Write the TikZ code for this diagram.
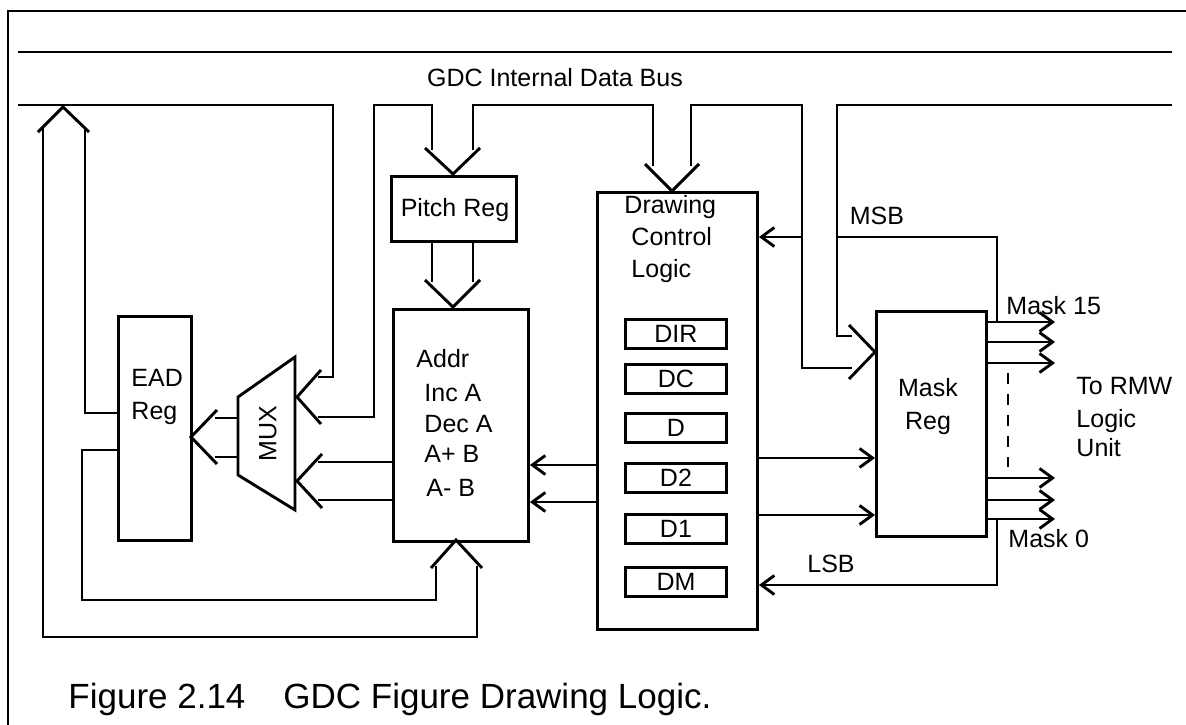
\documentclass[tikz,border=0pt]{standalone}
\usepackage{fontspec}
\setmainfont{Liberation Sans}
\usetikzlibrary{arrows.meta}
\begin{document}
\begin{tikzpicture}[x=1pt,y=-1pt,line width=2.9pt,line join=miter,
  box/.style={draw,line width=2.9pt,inner sep=0pt,anchor=north west},
  lbl/.style={font=\fontsize{25}{30}\selectfont,inner sep=0pt},
  captxt/.style={font=\fontsize{35}{42}\selectfont,inner sep=0pt},
  sarr/.style={-{Straight Barb[length=13pt,width=19pt]}}]
\useasboundingbox (0,0) rectangle (1186,725);
\fill[white] (0,0) rectangle (1186,725);
% frame
\draw[line width=2.6pt] (8,725) -- (8,11) -- (1186,11);
% boxes
\node[box,minimum width=73pt,minimum height=224pt] (ead) at (117,315) {};
\node[box,minimum width=125pt,minimum height=65pt] (pitch) at (390,175) {};
\node[box,minimum width=135pt,minimum height=232pt] (addr) at (392,308) {};
\node[box,minimum width=160pt,minimum height=437pt] (dcl) at (596,191) {};
\node[box,minimum width=110pt,minimum height=225pt] (mask) at (875,310) {};
\foreach \nm/\yy/\tx in {dir/318/DIR,dc/363/DC,d/412/D,dtwo/462/D2,done/513/D1,dm/566/DM}{
  \node[box,minimum width=101pt,minimum height=29pt] (\nm) at (624,\yy) {};
  \node[lbl,anchor=base] at ([yshift=-9pt]\nm.center) {\tx};
}
% MUX
\draw (295,357) -- (295,510) -- (238,475) -- (238,397) -- cycle;
\coordinate (mux) at (268,434);
\node[lbl,rotate=90] at (mux) {MUX};
% bus
\draw (18,52) -- (1172,52);
\draw (18,105) -- (333,105) -- (333,377) -- (318,377);
\draw (318,417) -- (374,417) -- (374,105) -- (432,105) -- (432,150);
\draw (473,150) -- (473,105) -- (653,105) -- (653,166);
\draw (691,166) -- (691,105) -- (802,105) -- (802,368) -- (852,368);
\draw (852,336) -- (837,336) -- (837,105) -- (1172,105);
% bus arrow heads
\draw (321,370) -- (297,397) -- (321,424);
\draw (425,148) -- (453,174) -- (480,148);
\draw (645,164) -- (672,191) -- (699,164);
\draw (849,325) -- (875,352) -- (849,379);
% pitch -> addr
\draw (432,240) -- (432,282);
\draw (473,240) -- (473,282);
\draw (425,280) -- (453,307) -- (480,280);
% addr -> mux
\draw (addr.west |- 0,462) -- (318,462);
\draw (addr.west |- 0,500) -- (318,500);
\draw (322,454) -- (297,481) -- (322,508);
% mux -> ead
\draw (238,418) -- (215,418);
\draw (238,457) -- (215,457);
\draw (217,410) -- (191,437) -- (217,464);
% big up arrow and loops
\draw (38,132) -- (63,107) -- (89,132);
\draw (43,128) -- (43,637) -- (477,637) -- (477,566);
\draw (85,128) -- (85,413) -- (ead.west |- 0,413);
\draw (ead.west |- 0,450) -- (82,450) -- (82,600) -- (436,600) -- (436,566);
\draw (431,568) -- (456,540) -- (482,568);
% single arrows
\draw[sarr] (dcl.west |- 0,465) -- (addr.east |- 0,465);
\draw[sarr] (dcl.west |- 0,502) -- (addr.east |- 0,502);
\draw[sarr] (dcl.east |- 0,458) -- (mask.west |- 0,458);
\draw[sarr] (dcl.east |- 0,515) -- (mask.west |- 0,515);
\draw[sarr] (802,237) -- (dcl.east |- 0,237);
\draw (837,237) -- (997,237) -- (997,322);
\foreach \yy in {322,342,363,478,500,519}
  \draw[sarr] (mask.east |- 0,\yy) -- (1055,\yy);
\draw[sarr] (997,519) -- (997,585) -- (dcl.east |- 0,585);
\draw[dash pattern=on 11pt off 10pt] (1008,373) -- (1008,467);
% labels
\node[lbl,anchor=base] at (555,86) {GDC Internal Data Bus};
\node[lbl,anchor=base] at (455,216) {Pitch Reg};
\node[lbl,anchor=base west] at (623,213) {Drawing};
\node[lbl,anchor=base west] at (630,245) {Control};
\node[lbl,anchor=base west] at (630,277) {Logic};
\node[lbl,anchor=base west] at (130,386) {EAD};
\node[lbl,anchor=base west] at (130,419) {Reg};
\node[lbl,anchor=base west] at (415,367) {Addr};
\node[lbl,anchor=base west] at (423,401) {Inc A};
\node[lbl,anchor=base west] at (423,432) {Dec A};
\node[lbl,anchor=base west] at (423,462) {A+ B};
\node[lbl,anchor=base west] at (425,496) {A- B};
\node[lbl,anchor=base] at (928,396) {Mask};
\node[lbl,anchor=base] at (928,429) {Reg};
\node[lbl,anchor=base] at (877,224) {MSB};
\node[lbl,anchor=base] at (831,572) {LSB};
\node[lbl,anchor=base west] at (1005,314) {Mask 15};
\node[lbl,anchor=base west] at (1007,547) {Mask 0};
\node[lbl,anchor=base west] at (1075,394) {To RMW};
\node[lbl,anchor=base west] at (1075,427) {Logic};
\node[lbl,anchor=base west] at (1075,456) {Unit};
\node[captxt,anchor=base west] at (67,708) {Figure 2.14};
\node[captxt,anchor=base west] at (282,708) {GDC Figure Drawing Logic.};
\end{tikzpicture}
\end{document}
